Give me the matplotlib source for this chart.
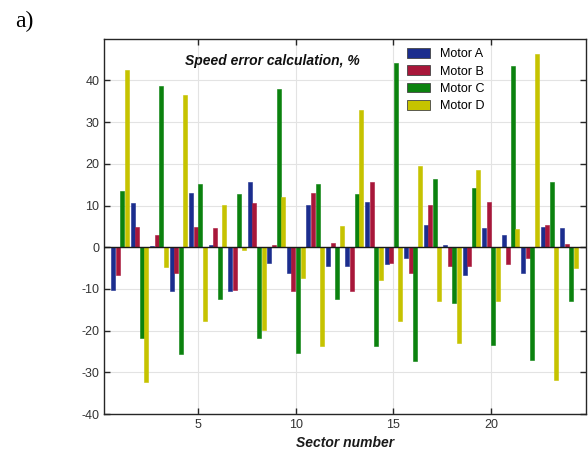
import matplotlib
matplotlib.use("Agg")
import matplotlib.pyplot as plt
import numpy as np

# Speed error per sector, %
sectors = np.arange(1, 25)
motor_a = [-10.2, 10.5, 0.4, -10.5, 13.0, 0.6, -10.5, 15.7, -3.8, -6.1, 10.1, -4.5,
           -4.6, 10.9, -4.1, -2.6, 5.3, 0.5, -6.6, 4.6, 2.9, -6.1, 4.9, 4.5]
motor_b = [-6.7, 4.8, 3.0, -6.1, 4.9, 4.6, -10.2, 10.6, 0.5, -10.5, 13.0, 0.9,
           -10.5, 15.7, -3.7, -6.2, 10.1, -4.4, -4.6, 10.9, -4.0, -2.6, 5.3, 0.7]
motor_c = [13.4, -21.7, 38.7, -25.7, 15.1, -12.4, 12.7, -21.7, 38.0, -25.4, 15.1, -12.4,
           12.8, -23.6, 44.2, -27.2, 16.4, -13.3, 14.2, -23.5, 43.5, -27.0, 15.7, -12.9]
motor_d = [42.6, -32.4, -4.7, 36.5, -17.6, 10.2, -0.6, -19.8, 12.1, -7.3, -23.6, 5.2,
           33.0, -7.8, -17.7, 19.5, -12.9, -22.9, 18.6, -12.8, 4.4, 46.4, -31.9, -4.9]

series = [motor_a, motor_b, motor_c, motor_d]
labels = ["Motor A", "Motor B", "Motor C", "Motor D"]
colors = ["#1b2d8e", "#a8173a", "#0b820e", "#c6c300"]

plt.rcParams["font.family"] = ["Liberation Sans", "DejaVu Sans"]
plt.rcParams["axes.unicode_minus"] = False

fig = plt.figure(figsize=(5.88, 4.53), dpi=100)
ax = fig.add_axes([0.177, 0.086, 0.8196, 0.8286])

step = 0.233
width = 0.205
for i, (vals, lab, col) in enumerate(zip(series, labels, colors)):
    offset = (i - 1.5) * step
    ax.bar(sectors + offset, vals, width=width, color=col, edgecolor=col,
           linewidth=0.4, label=lab, zorder=3)

ax.axhline(0, color="#1a1a1a", linewidth=1.0, zorder=4)

ax.set_xlim(0.18, 24.87)
ax.set_ylim(-40, 50)
ax.set_xticks([5, 10, 15, 20])
ax.set_yticks(np.arange(-40, 41, 10))
ax.grid(True, color="#e3e3e3", linewidth=0.8, zorder=0)
ax.tick_params(direction="in", top=True, right=True, length=4, width=1,
               labelsize=9, labelcolor="#333333", color="#262626")
for s in ax.spines.values():
    s.set_linewidth(1.0)
    s.set_color("#262626")

ax.set_xlabel("Sector number", fontsize=10, fontweight="bold", style="italic",
              labelpad=4, color="#1a1a1a")
ax.text(0.35, 0.94, "Speed error calculation, %", transform=ax.transAxes,
        ha="center", va="center", fontsize=10, fontweight="bold", style="italic",
        color="#111111")

leg = ax.legend(loc="upper left", bbox_to_anchor=(0.605, 1.005), frameon=False,
                fontsize=9, handlelength=1.85, handleheight=0.8,
                labelspacing=0.42, handletextpad=0.8)
for h in leg.legend_handles:
    h.set_edgecolor("#444444")
    h.set_linewidth(0.6)

fig.text(0.026, 0.953, "a)", fontsize=17, family=["Liberation Serif", "DejaVu Serif"],
         ha="left", va="center")

fig.savefig("out.png", dpi=100)
